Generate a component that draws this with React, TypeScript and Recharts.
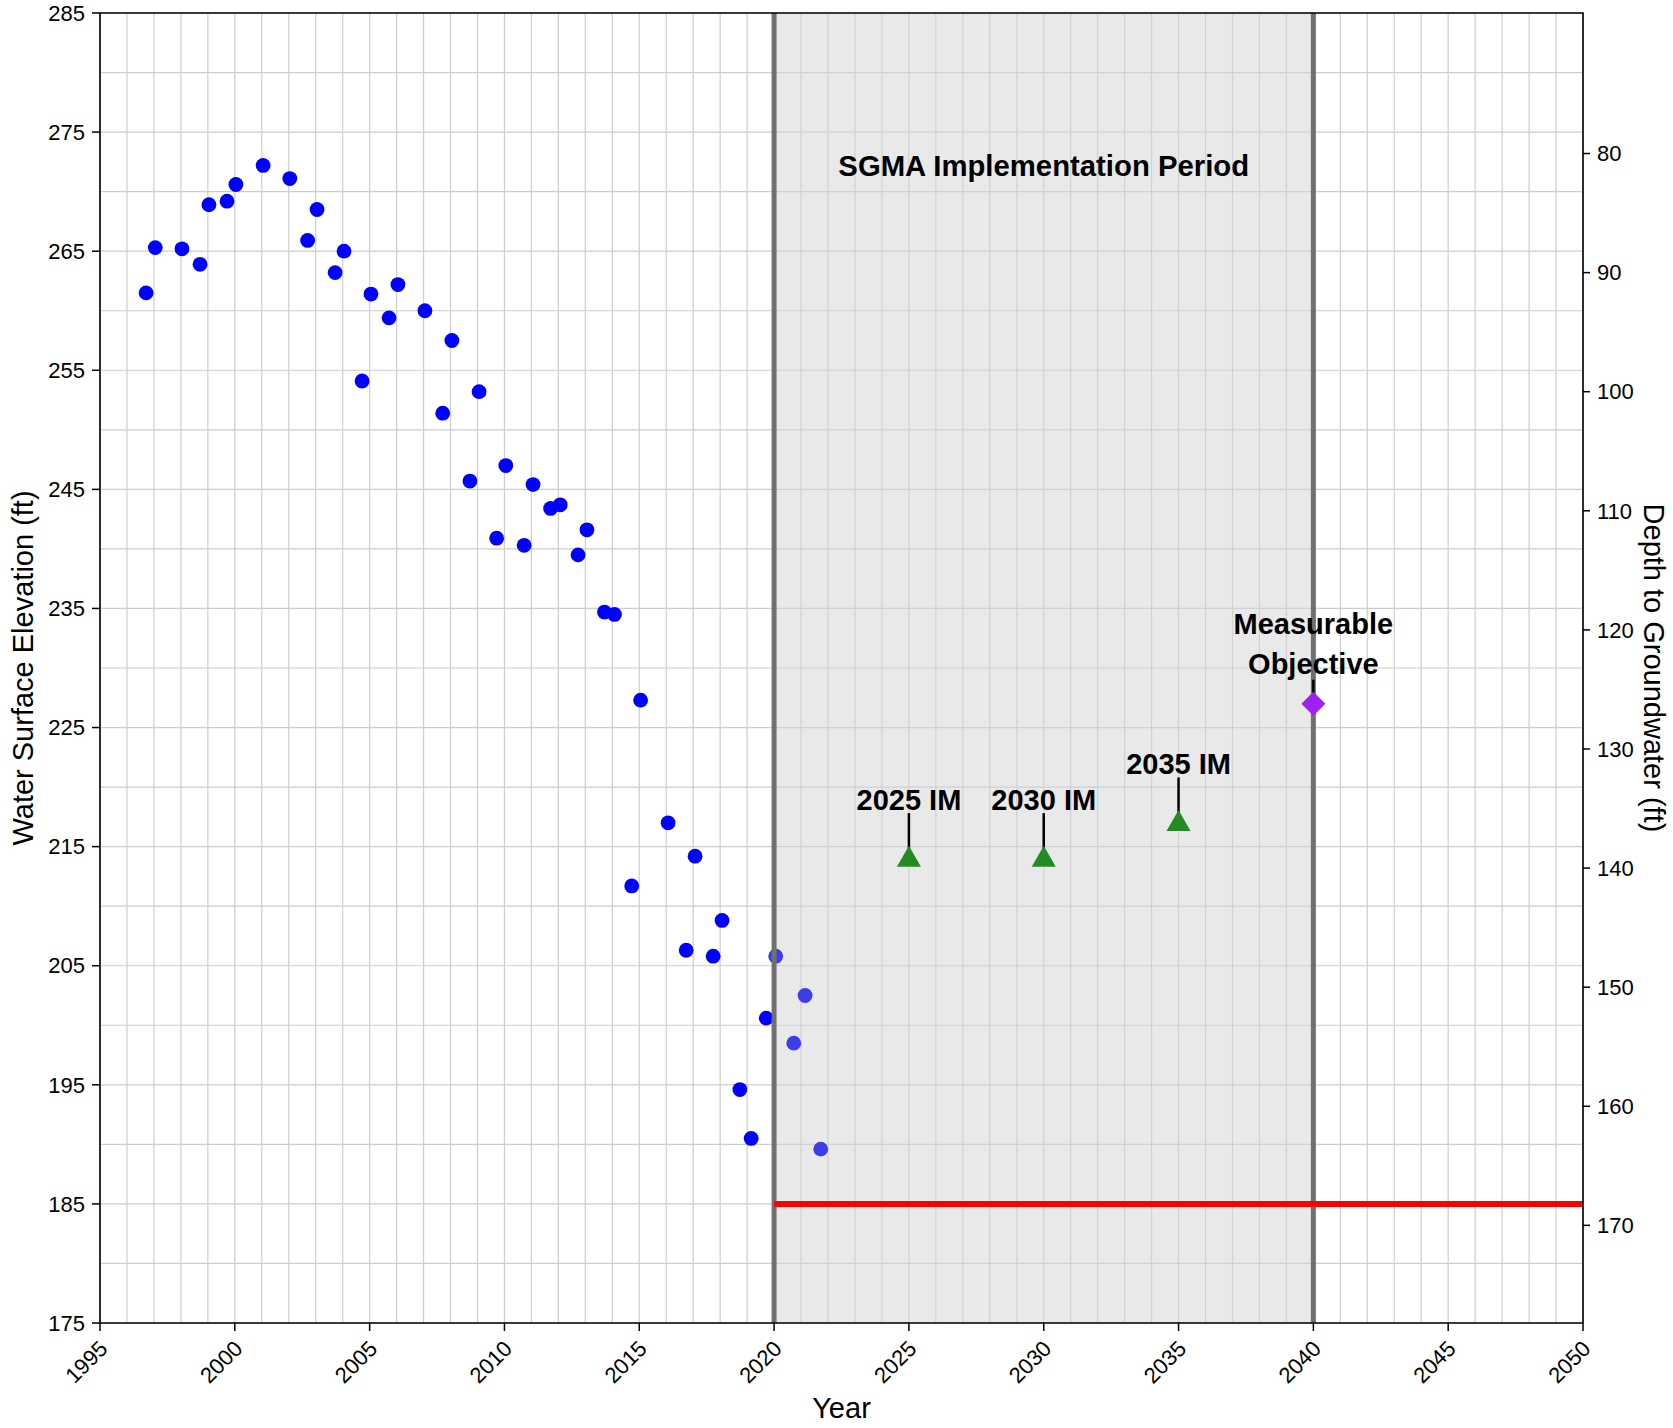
import React from "react";
import {
  ScatterChart,
  Scatter,
  XAxis,
  YAxis,
  CartesianGrid,
  ReferenceArea,
  ReferenceLine,
} from "recharts";

// observed water surface elevations
const OBS_YEARS = [
  1996.71, 1997.05, 1998.04, 1998.71, 1999.04, 1999.71, 2000.04, 2001.05, 2002.04, 2002.7,
  2003.05, 2003.72, 2004.05, 2004.72, 2005.05, 2005.72, 2006.05, 2007.05, 2007.71, 2008.05,
  2008.72, 2009.06, 2009.71, 2010.05, 2010.73, 2011.06, 2011.71, 2012.07, 2012.73, 2013.06,
  2013.71, 2014.08, 2014.72, 2015.05, 2016.07, 2016.74, 2017.07, 2017.74, 2018.07, 2018.73,
  2019.15, 2019.71, 2020.06, 2020.73, 2021.15, 2021.73,
];
const OBS_ELEV = [
  261.5, 265.3, 265.2, 263.9, 268.9, 269.2, 270.6, 272.2, 271.1, 265.9,
  268.5, 263.2, 265.0, 254.1, 261.4, 259.4, 262.2, 260.0, 251.4, 257.5,
  245.7, 253.2, 240.9, 247.0, 240.3, 245.4, 243.4, 243.7, 239.5, 241.6,
  234.7, 234.5, 211.7, 227.3, 217.0, 206.3, 214.2, 205.8, 208.8, 194.6,
  190.5, 200.6, 205.8, 198.5, 202.5, 189.6,
];

// interim milestones
const IM_YEARS = [2025, 2030, 2035];
const IM_ELEV = [214.2, 214.2, 217.2];
const IM_LABELS = ["2025 IM", "2030 IM", "2035 IM"];

// measurable objective
const MO_YEARS = [2040];
const MO_ELEV = [227.0];
const MO_LABEL_LINES = ["Measurable", "Objective"];

const SGMA_START = 2020;
const SGMA_END = 2040;
const SGMA_LABEL_YEAR = [2030];
const SGMA_LABEL_ELEV = [272.2];
const SGMA_LABEL = "SGMA Implementation Period";

const MIN_THRESHOLD = 185;
const MIN_THRESHOLD_END = 2050;

const X_DOMAIN = [1995, 2050];
const Y_DOMAIN = [175, 285];
const GROUND_SURFACE = 353.2;

const X_LABEL_TICKS = [1995, 2000, 2005, 2010, 2015, 2020, 2025, 2030, 2035, 2040, 2045, 2050];
const Y_LABEL_TICKS = [175, 185, 195, 205, 215, 225, 235, 245, 255, 265, 275, 285];
const DEPTH_TICKS = [80, 90, 100, 110, 120, 130, 140, 150, 160, 170];

// minor grid every year / every 5 ft
const X_GRID_TICKS = Array.from({ length: X_DOMAIN[1] - X_DOMAIN[0] + 1 }, (_, i) => X_DOMAIN[0] + i);
const Y_GRID_TICKS = Array.from({ length: (Y_DOMAIN[1] - Y_DOMAIN[0]) / 5 + 1 }, (_, i) => Y_DOMAIN[0] + i * 5);

const FONT = "'Liberation Sans', Arial, Helvetica, sans-serif";
const TICK_FONT = 22;
const TITLE_FONT = 29;

const obsData = OBS_YEARS.map((x, i) => ({ x, y: OBS_ELEV[i] }));
const imData = IM_YEARS.map((x, i) => ({ x, y: IM_ELEV[i], label: IM_LABELS[i] }));
const moData = MO_YEARS.map((x, i) => ({ x, y: MO_ELEV[i] }));
const sgmaData = SGMA_LABEL_YEAR.map((x, i) => ({ x, y: SGMA_LABEL_ELEV[i] }));

const XTick = (props: any) => {
  const { x, y, payload } = props;
  if (!X_LABEL_TICKS.includes(payload.value)) return <g />;
  const ax = x + 9;
  const ay = y + 27;
  return (
    <g>
      <line x1={x} x2={x} y1={y} y2={y + 8} stroke="#000" strokeWidth={1.5} />
      <text
        x={ax}
        y={ay}
        textAnchor="end"
        transform={`rotate(-45 ${ax} ${ay})`}
        fontSize={TICK_FONT}
        fontFamily={FONT}
        fill="#000"
      >
        {payload.value}
      </text>
    </g>
  );
};

const YTick = (props: any) => {
  const { x, y, payload } = props;
  if (!Y_LABEL_TICKS.includes(payload.value)) return <g />;
  return (
    <g>
      <line x1={x - 8} x2={x} y1={y} y2={y} stroke="#000" strokeWidth={1.5} />
      <text x={x - 15} y={y} dy="0.35em" textAnchor="end" fontSize={TICK_FONT} fontFamily={FONT} fill="#000">
        {payload.value}
      </text>
    </g>
  );
};

const DepthTick = (props: any) => {
  const { x, y, payload } = props;
  return (
    <g>
      <line x1={x} x2={x + 7} y1={y} y2={y} stroke="#000" strokeWidth={1.5} />
      <text x={x + 14} y={y} dy="0.35em" textAnchor="start" fontSize={TICK_FONT} fontFamily={FONT} fill="#000">
        {payload.value}
      </text>
    </g>
  );
};

const ObsDot = (props: any) => {
  const { cx, cy, payload } = props;
  // points inside the shaded period look washed out in the original
  const fill = payload.x > SGMA_START ? "#3c3ce8" : "#0000ff";
  return <circle cx={cx} cy={cy} r={7.4} fill={fill} />;
};

const ImMarker = (props: any) => {
  const { cx, cy, payload } = props;
  return (
    <g>
      <line x1={cx} x2={cx} y1={cy - 43} y2={cy} stroke="#000" strokeWidth={2.5} />
      <polygon
        points={`${cx},${cy - 10.5} ${cx - 12},${cy + 10.5} ${cx + 12},${cy + 10.5}`}
        fill="#228b22"
      />
      <text x={cx} y={cy - 46} textAnchor="middle" fontSize={29} fontWeight="bold" fontFamily={FONT} fill="#000">
        {payload.label}
      </text>
    </g>
  );
};

const MoMarker = (props: any) => {
  const { cx, cy } = props;
  return (
    <g>
      <line x1={cx} x2={cx} y1={cy - 24} y2={cy} stroke="#000" strokeWidth={2.5} />
      <polygon
        points={`${cx},${cy - 12} ${cx + 12},${cy} ${cx},${cy + 12} ${cx - 12},${cy}`}
        fill="#a020f0"
      />
      <text x={cx} y={cy - 70} textAnchor="middle" fontSize={29} fontWeight="bold" fontFamily={FONT} fill="#000">
        {MO_LABEL_LINES[0]}
      </text>
      <text x={cx} y={cy - 30} textAnchor="middle" fontSize={29} fontWeight="bold" fontFamily={FONT} fill="#000">
        {MO_LABEL_LINES[1]}
      </text>
    </g>
  );
};

const SgmaText = (props: any) => {
  const { cx, cy } = props;
  return (
    <text x={cx} y={cy} dy="0.35em" textAnchor="middle" fontSize={29.3} fontWeight="bold" fontFamily={FONT} fill="#000">
      {SGMA_LABEL}
    </text>
  );
};

export default function App() {
  return (
    <div style={{ position: "absolute", left: 0, top: 0, width: 1673, height: 1428, background: "#fff" }}>
      <ScatterChart width={1673} height={1428} margin={{ top: 13, right: 0, bottom: 0, left: 0 }}>
        <CartesianGrid stroke="#cecece" strokeWidth={1.2} />
        <XAxis
          type="number"
          dataKey="x"
          domain={X_DOMAIN}
          ticks={X_GRID_TICKS}
          interval={0}
          allowDataOverflow
          height={105}
          axisLine={false}
          tickLine={false}
          tickSize={0}
          tickMargin={0}
          tick={<XTick />}
          label={{
            content: (p: any) => {
              const vb = p.viewBox;
              return (
                <text x={vb.x + vb.width / 2} y={vb.y + 95} textAnchor="middle" fontSize={TITLE_FONT} fontFamily={FONT} fill="#000">
                  Year
                </text>
              );
            },
          }}
        />
        <YAxis
          type="number"
          dataKey="y"
          domain={Y_DOMAIN}
          ticks={Y_GRID_TICKS}
          interval={0}
          allowDataOverflow
          width={100}
          axisLine={false}
          tickLine={false}
          tickSize={0}
          tickMargin={0}
          tick={<YTick />}
          label={{
            content: (p: any) => {
              const vb = p.viewBox;
              const cy = vb.y + vb.height / 2;
              return (
                <text
                  x={23}
                  y={cy}
                  dy="0.35em"
                  textAnchor="middle"
                  transform={`rotate(-90 23 ${cy})`}
                  fontSize={TITLE_FONT}
                  fontFamily={FONT}
                  fill="#000"
                >
                  Water Surface Elevation (ft)
                </text>
              );
            },
          }}
        />
        <YAxis
          yAxisId="depth"
          orientation="right"
          type="number"
          domain={[GROUND_SURFACE - Y_DOMAIN[1], GROUND_SURFACE - Y_DOMAIN[0]]}
          reversed
          ticks={DEPTH_TICKS}
          interval={0}
          allowDataOverflow
          width={90}
          axisLine={false}
          tickLine={false}
          tickSize={0}
          tickMargin={0}
          tick={<DepthTick />}
          label={{
            content: (p: any) => {
              const vb = p.viewBox;
              const cy = vb.y + vb.height / 2;
              const cx = vb.x + 71;
              return (
                <text
                  x={cx}
                  y={cy}
                  dy="0.35em"
                  textAnchor="middle"
                  transform={`rotate(90 ${cx} ${cy})`}
                  fontSize={TITLE_FONT}
                  fontFamily={FONT}
                  fill="#000"
                >
                  Depth to Groundwater (ft)
                </text>
              );
            },
          }}
        />
        <ReferenceArea x1={SGMA_START} x2={SGMA_END} y1={Y_DOMAIN[0]} y2={Y_DOMAIN[1]} fill="#d3d3d3" fillOpacity={0.5} stroke="none" />
        <Scatter data={sgmaData} shape={<SgmaText />} isAnimationActive={false} />
        <Scatter data={obsData} shape={<ObsDot />} isAnimationActive={false} />
        <ReferenceLine x={SGMA_START} stroke="#707070" strokeWidth={5} zIndex={700} />
        <ReferenceLine x={SGMA_END} stroke="#707070" strokeWidth={5} zIndex={700} />
        <ReferenceLine
          segment={[
            { x: SGMA_START, y: MIN_THRESHOLD },
            { x: MIN_THRESHOLD_END, y: MIN_THRESHOLD },
          ]}
          stroke="#ff0000"
          strokeWidth={6}
          zIndex={700}
        />
        <Scatter data={imData} shape={<ImMarker />} isAnimationActive={false} zIndex={800} />
        <Scatter data={moData} shape={<MoMarker />} isAnimationActive={false} zIndex={800} />
        <ReferenceArea
          x1={X_DOMAIN[0]}
          x2={X_DOMAIN[1]}
          y1={Y_DOMAIN[0]}
          y2={Y_DOMAIN[1]}
          fill="none"
          stroke="#000"
          strokeWidth={1.6}
          zIndex={900}
        />
      </ScatterChart>
    </div>
  );
}
